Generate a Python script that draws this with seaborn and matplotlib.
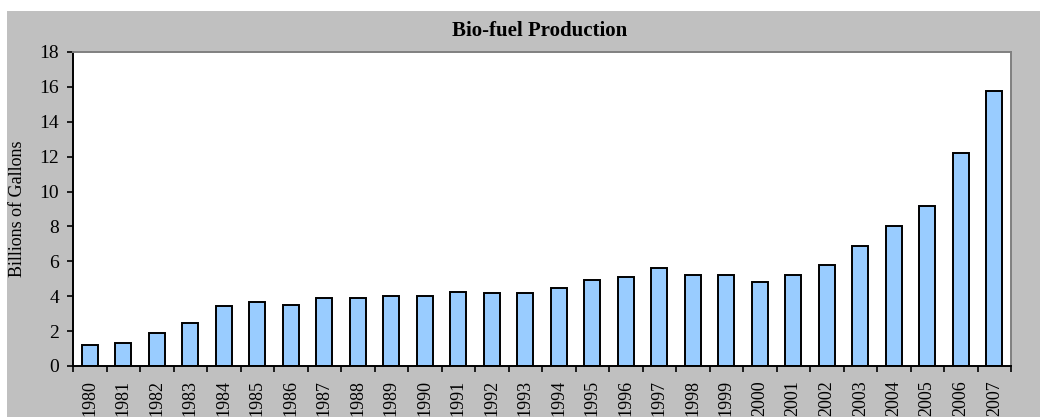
import matplotlib
matplotlib.use("Agg")
import matplotlib.pyplot as plt
import seaborn as sns
import pandas as pd
import numpy as np
from matplotlib.patches import Rectangle
from matplotlib.ticker import FixedLocator

years = [str(y) for y in range(1980, 2008)]
production = [1.22, 1.34, 1.91, 2.49, 3.42, 3.69, 3.52, 3.88, 3.88, 4.00,
              4.00, 4.27, 4.17, 4.17, 4.46, 4.93, 5.13, 5.60, 5.20, 5.20,
              4.84, 5.20, 5.78, 6.90, 8.05, 9.18, 12.22, 15.74]
y_ticks = [0, 2, 4, 6, 8, 10, 12, 14, 16, 18]
title = "Bio-fuel Production"
ylabel = "Billions of Gallons"

df = pd.DataFrame({"Year": years, "Production": production})

sns.set_style("ticks")
plt.rcParams["font.family"] = ["Liberation Serif", "DejaVu Serif"]
plt.rcParams["text.color"] = "black"
plt.rcParams["axes.labelcolor"] = "black"
plt.rcParams["xtick.color"] = "black"
plt.rcParams["ytick.color"] = "black"

fig = plt.figure(figsize=(10.4, 4.17), dpi=100)
fig.patch.set_facecolor("white")

bg = fig.add_axes([0, 0, 1, 1], zorder=-5)
bg.set_xlim(0, 1)
bg.set_ylim(0, 1)
bg.axis("off")
bg.add_patch(Rectangle((7 / 1040, 0), 1 - 7 / 1040, 1 - 11 / 417,
                       facecolor="#C0C0C0", edgecolor="none"))

ax = fig.add_axes([73 / 1040, 51 / 417, (1011 - 73) / 1040, (366 - 52) / 417])
ax.set_facecolor("white")

sns.barplot(data=df, x="Year", y="Production", color="#99CCFF",
            edgecolor="black", linewidth=1.4, width=0.48, saturation=1, ax=ax)

ax.set_xlim(-0.5, len(years) - 0.5)
ax.set_ylim(0, 18)
ax.set_yticks(y_ticks)
ax.set_yticklabels([str(v) for v in y_ticks])
ax.tick_params(axis="y", length=4, width=1.2, color="black", labelsize=14, pad=6)
ax.tick_params(axis="x", which="major", length=0, labelsize=13, pad=10,
               labelrotation=90)
ax.xaxis.set_minor_locator(FixedLocator(np.arange(-0.5, len(years), 1.0)))
ax.tick_params(axis="x", which="minor", length=4, width=1.2, color="black")
for lbl in ax.get_xticklabels():
    lbl.set_va("top")

ax.set_xlabel("")
ax.set_ylabel(ylabel, fontsize=13)
ax.yaxis.set_label_coords(-0.05, 0.5)

for s in ["left", "bottom"]:
    ax.spines[s].set_color("black")
    ax.spines[s].set_linewidth(1.4)
for s in ["top", "right"]:
    ax.spines[s].set_visible(True)
    ax.spines[s].set_color("#808080")
    ax.spines[s].set_linewidth(1.4)

fig.text(540 / 1040, 1 - 31 / 417, title, ha="center", va="center",
         fontsize=15, fontweight="bold")

fig.savefig("out.png", dpi=100, facecolor=fig.get_facecolor())
